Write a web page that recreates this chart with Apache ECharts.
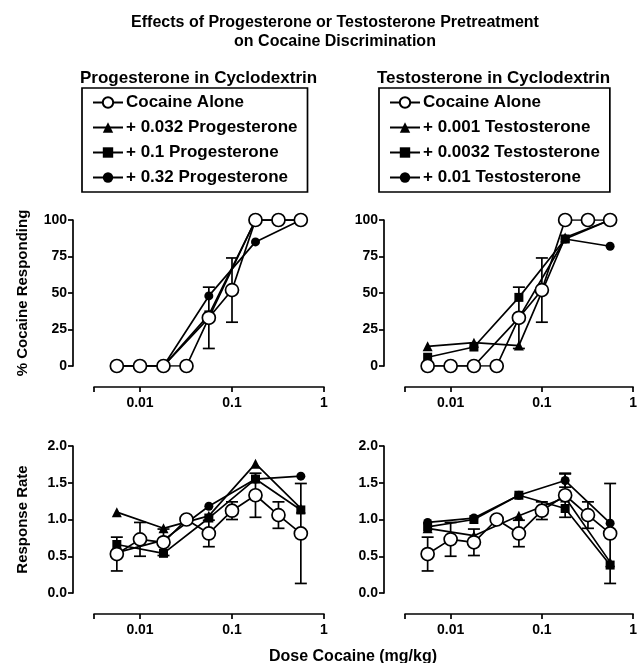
<!DOCTYPE html>
<html><head><meta charset="utf-8">
<script src="https://cdn.jsdelivr.net/npm/echarts@6/dist/echarts.min.js"></script>
<style>html,body{margin:0;padding:0;background:#fff}#c{width:640px;height:663px}</style>
</head><body><div id="c"></div>
<script>
// ---- data ----
const doses = [0.0056, 0.01, 0.018, 0.032, 0.056, 0.1, 0.18, 0.32, 0.56];
const testDoses = [0.0056, 0.018, 0.056, 0.18, 0.56];

// % cocaine responding
const cocaineAlonePct    = [0, 0, 0, 0, 33, 52, 100, 100, 100];
const cocaineAlonePctSem = [0, 0, 0, 0, 21, 22, 0, 0, 0];
const prog032Pct = [0, 0, 33, 100, 100];
const prog1Pct   = [0, 0, 35, 100, 100];
const prog32Pct  = [0, 0, 48, 85, 100];
const test001Pct  = [13.5, 16, 14, 88, 100];
const test0032Pct = [6, 13, 47, 87, 100];
const test01Pct   = [0, 0, 33, 87, 82];

// response rate
const cocaineAloneRate    = [0.53, 0.73, 0.69, 1.0, 0.81, 1.12, 1.33, 1.06, 0.81];
const cocaineAloneRateSem = [0.23, 0.23, 0.18, 0, 0.18, 0.12, 0.30, 0.18, 0.68];
const prog032Rate = [1.10, 0.88, 1.05, 1.76, 1.15];
const prog1Rate   = [0.66, 0.54, 1.02, 1.55, 1.13];
const prog32Rate  = [0.55, 0.72, 1.18, 1.55, 1.59];
const test001Rate  = [0.88, 0.78, 1.05, 1.30, 0.42];
const test0032Rate = [0.90, 1.00, 1.33, 1.15, 0.38];
const test01Rate   = [0.96, 1.02, 1.33, 1.53, 0.95];
const test01RateSem = [0, 0, 0, 0.09, 0];

const legendProg = ['Cocaine Alone', '+ 0.032 Progesterone', '+ 0.1 Progesterone', '+ 0.32 Progesterone'];
const legendTest = ['Cocaine Alone', '+ 0.001 Testosterone', '+ 0.0032 Testosterone', '+ 0.01 Testosterone'];

// ---- styling ----
const FF = '"Liberation Sans", Arial, Helvetica, sans-serif';
const BLACK = '#000';

const markers = [
  {symbol: 'circle', size: 13, fill: '#fff'},
  {symbol: 'triangle', size: 10, fill: BLACK},
  {symbol: 'rect', size: 9, fill: BLACK},
  {symbol: 'circle', size: 9, fill: BLACK}
];

function line(name, idx, xs, ys, m, z) {
  return {
    type: 'line', name: name, xAxisIndex: idx, yAxisIndex: idx, z: z,
    data: xs.map((d, i) => [d, ys[i]]),
    symbol: m.symbol, symbolSize: m.size, showSymbol: true,
    lineStyle: {color: BLACK, width: 1.7},
    itemStyle: {color: m.fill, borderColor: BLACK, borderWidth: m.fill === '#fff' ? 1.7 : 0},
    emphasis: {disabled: true}, animation: false
  };
}

function errs(idx, xs, ys, es, z) {
  const data = [];
  xs.forEach((d, i) => { if (es[i] > 0) data.push([d, ys[i], es[i]]); });
  return {
    type: 'custom', xAxisIndex: idx, yAxisIndex: idx, z: z, silent: true, clip: false,
    data: data,
    renderItem: function (params, api) {
      const x = api.value(0), y = api.value(1), e = api.value(2);
      const t = api.coord([x, y + e]), b = api.coord([x, y - e]);
      const hw = 6, st = {stroke: BLACK, lineWidth: 1.7};
      return {type: 'group', children: [
        {type: 'line', shape: {x1: t[0], y1: t[1], x2: b[0], y2: b[1]}, style: st},
        {type: 'line', shape: {x1: t[0] - hw, y1: t[1], x2: t[0] + hw, y2: t[1]}, style: st},
        {type: 'line', shape: {x1: b[0] - hw, y1: b[1], x2: b[0] + hw, y2: b[1]}, style: st}
      ]};
    }
  };
}

const labelStyle = {color: BLACK, fontFamily: FF, fontWeight: 'bold', fontSize: 14};
const axisLineStyle = {color: BLACK, width: 1.7};

function xAx(idx) {
  return {
    type: 'log', logBase: 10, gridIndex: idx, min: Math.pow(10, -2.5), max: 1,
    offset: 21,
    axisLine: {show: true, onZero: false, lineStyle: axisLineStyle},
    axisTick: {show: true, length: 5, lineStyle: axisLineStyle},
    minorTick: {show: false}, splitLine: {show: false},
    axisLabel: Object.assign({}, labelStyle, {
      margin: 9, showMinLabel: true,
      formatter: function (v) {
        const l = Math.log10(v);
        if (Math.abs(l - Math.round(l)) > 1e-6) return '';
        return String(Math.round(v * 100) / 100);
      }
    })
  };
}
function yAx(idx, max, interval, name, fmt) {
  return {
    type: 'value', gridIndex: idx, min: 0, max: max, interval: interval,
    offset: 21,
    name: name, nameLocation: 'middle', nameGap: 43,
    nameTextStyle: {color: BLACK, fontFamily: FF, fontWeight: 'bold', fontSize: 15},
    axisLine: {show: true, onZero: false, lineStyle: axisLineStyle},
    axisTick: {show: true, length: 5, lineStyle: axisLineStyle},
    splitLine: {show: false},
    axisLabel: Object.assign({}, labelStyle, {margin: 6, formatter: fmt})
  };
}
const fmtPct = v => String(v);
const fmtRate = v => v.toFixed(1);

const series = [];
// panel 0: progesterone % responding
series.push(errs(0, doses, cocaineAlonePct, cocaineAlonePctSem, 1));
series.push(line(legendProg[1], 0, testDoses, prog032Pct, markers[1], 3));
series.push(line(legendProg[2], 0, testDoses, prog1Pct, markers[2], 3));
series.push(line(legendProg[3], 0, testDoses, prog32Pct, markers[3], 3));
series.push(line(legendProg[0], 0, doses, cocaineAlonePct, markers[0], 5));
// panel 1: testosterone % responding
series.push(errs(1, doses, cocaineAlonePct, cocaineAlonePctSem, 1));
series.push(line(legendTest[1], 1, testDoses, test001Pct, markers[1], 3));
series.push(line(legendTest[2], 1, testDoses, test0032Pct, markers[2], 3));
series.push(line(legendTest[3], 1, testDoses, test01Pct, markers[3], 3));
series.push(line(legendTest[0], 1, doses, cocaineAlonePct, markers[0], 5));
// panel 2: progesterone rate
series.push(errs(2, doses, cocaineAloneRate, cocaineAloneRateSem, 1));
series.push(line(legendProg[1], 2, testDoses, prog032Rate, markers[1], 3));
series.push(line(legendProg[2], 2, testDoses, prog1Rate, markers[2], 3));
series.push(line(legendProg[3], 2, testDoses, prog32Rate, markers[3], 3));
series.push(line(legendProg[0], 2, doses, cocaineAloneRate, markers[0], 5));
// panel 3: testosterone rate
series.push(errs(3, doses, cocaineAloneRate, cocaineAloneRateSem, 1));
series.push(errs(3, testDoses, test01Rate, test01RateSem, 1));
series.push(line(legendTest[1], 3, testDoses, test001Rate, markers[1], 3));
series.push(line(legendTest[2], 3, testDoses, test0032Rate, markers[2], 3));
series.push(line(legendTest[3], 3, testDoses, test01Rate, markers[3], 3));
series.push(line(legendTest[0], 3, doses, cocaineAloneRate, markers[0], 5));

function legend(left, data) {
  return {
    orient: 'vertical', left: left, top: 88, data: data,
    selectedMode: false,
    borderColor: BLACK, borderWidth: 1.7, padding: [6, 10, 6, 10],
    itemWidth: 30, itemHeight: 13, itemGap: 8,
    textStyle: {color: BLACK, fontFamily: FF, fontWeight: 'bold', fontSize: 17, padding: [0, 0, 0, -2]}
  };
}

const option = {
  animation: false,
  backgroundColor: '#fff',
  title: [
    {text: 'Effects of Progesterone or Testosterone Pretreatment\non Cocaine Discrimination',
     left: 330, top: 8, textAlign: 'center',
     textStyle: {color: BLACK, fontFamily: FF, fontWeight: 'bold', fontSize: 16, lineHeight: 19}},
    {text: 'Progesterone in Cyclodextrin', left: 75, top: 65,
     textStyle: {color: BLACK, fontFamily: FF, fontWeight: 'bold', fontSize: 17}},
    {text: 'Testosterone in Cyclodextrin', left: 372, top: 65,
     textStyle: {color: BLACK, fontFamily: FF, fontWeight: 'bold', fontSize: 17}},
    {text: 'Dose Cocaine (mg/kg)', left: 348, top: 644, textAlign: 'center',
     textStyle: {color: BLACK, fontFamily: FF, fontWeight: 'bold', fontSize: 16}}
  ],
  legend: [legend(82, legendProg), legend(379, legendTest)],
  grid: [
    {left: 94, top: 220, width: 230, height: 146},
    {left: 405, top: 220, width: 229, height: 146},
    {left: 94, top: 446, width: 230, height: 147},
    {left: 405, top: 446, width: 229, height: 147}
  ],
  xAxis: [xAx(0), xAx(1), xAx(2), xAx(3)],
  yAxis: [
    yAx(0, 100, 25, '% Cocaine Responding', fmtPct),
    yAx(1, 100, 25, '', fmtPct),
    yAx(2, 2, 0.5, 'Response Rate', fmtRate),
    yAx(3, 2, 0.5, '', fmtRate)
  ],
  series: series
};

const chart = echarts.init(document.getElementById('c'), null, {renderer: 'canvas'});
chart.setOption(option);
</script>
</body></html>
